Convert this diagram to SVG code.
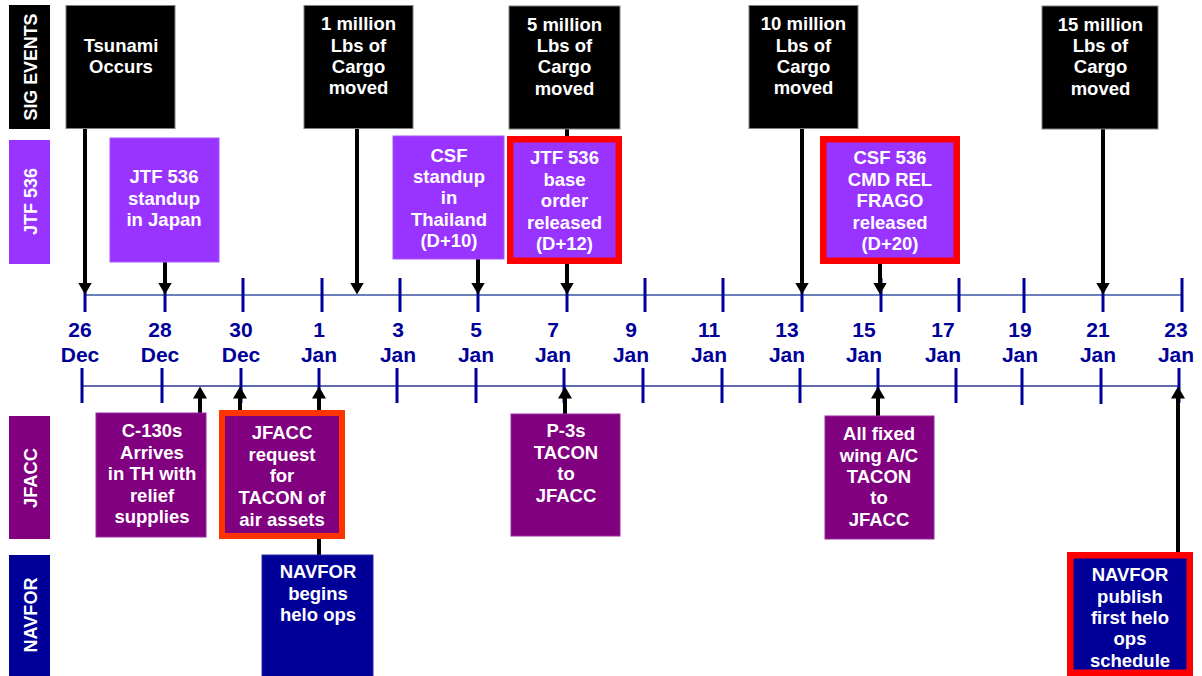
<svg xmlns="http://www.w3.org/2000/svg" width="1202" height="676" viewBox="0 0 1202 676">
  <defs>
    <style>
      .lane { font-family: "Liberation Sans", Arial, sans-serif; font-weight: bold; font-size: 19px; fill: #ffffff; text-anchor: middle; }
      .box text { font-family: "Liberation Sans", Arial, sans-serif; font-weight: bold; font-size: 18.5px; fill: #ffffff; text-anchor: middle; }
      .date { font-family: "Liberation Sans", Arial, sans-serif; font-weight: bold; font-size: 21px; fill: #000099; text-anchor: middle; }
      .sig { fill: #000000; stroke: #808080; stroke-width: 1; }
      .jtf { fill: #9933ff; stroke: #a855ff; stroke-width: 1; }
      .jfacc { fill: #800080; stroke: #9a2a9a; stroke-width: 1; }
      .navfor { fill: #000099; stroke: #2a2aa8; stroke-width: 1; }
      .hot { stroke: #ff0000; stroke-width: 6.5; }
      .hot2 { stroke: #ff3300; stroke-width: 6; }
      .tick { stroke: #000099; stroke-width: 3; }
      .link { stroke: #000000; stroke-width: 4; fill: none; }
      .arrow { marker-end: url(#head); }
    </style>
    <marker id="head" markerUnits="userSpaceOnUse" markerWidth="12" markerHeight="14" viewBox="0 0 12 14" refX="0.5" refY="7" orient="auto">
      <path d="M0,0 L12,7 L0,14 z" fill="#000000"/>
    </marker>
  </defs>

  <rect width="1202" height="676" fill="#ffffff"/>

  <!-- swim-lane headers -->
  <g id="lane-sig">
    <rect x="9" y="5" width="41" height="124" fill="#000000"/>
    <text class="lane" transform="translate(30,67) rotate(-90)" x="0" y="7" textLength="107" lengthAdjust="spacingAndGlyphs">SIG EVENTS</text>
  </g>
  <g id="lane-jtf">
    <rect x="9" y="140" width="41" height="124" fill="#9933ff"/>
    <text class="lane" transform="translate(30,201.5) rotate(-90)" x="0" y="7" textLength="67" lengthAdjust="spacingAndGlyphs">JTF 536</text>
  </g>
  <g id="lane-jfacc">
    <rect x="9" y="416" width="41" height="123" fill="#800080"/>
    <text class="lane" transform="translate(30,478) rotate(-90)" x="0" y="7" textLength="60" lengthAdjust="spacingAndGlyphs">JFACC</text>
  </g>
  <g id="lane-navfor">
    <rect x="9" y="555" width="41" height="121" fill="#000099"/>
    <text class="lane" transform="translate(30,615) rotate(-90)" x="0" y="7" textLength="75" lengthAdjust="spacingAndGlyphs">NAVFOR</text>
  </g>

  <!-- timeline axes -->
  <g id="timeline">
    <line x1="85" y1="295" x2="1182" y2="295" stroke="#6b80ba" stroke-width="2"/>
    <line x1="82" y1="386" x2="1179" y2="386" stroke="#2b3a95" stroke-width="1.5"/>
    <g class="tick">
      <line x1="85" y1="278" x2="85" y2="312"/>
      <line x1="165" y1="278" x2="165" y2="312"/>
      <line x1="243" y1="278" x2="243" y2="312"/>
      <line x1="322" y1="278" x2="322" y2="312"/>
      <line x1="400" y1="278" x2="400" y2="312"/>
      <line x1="478" y1="278" x2="478" y2="312"/>
      <line x1="567" y1="278" x2="567" y2="312"/>
      <line x1="645" y1="278" x2="645" y2="312"/>
      <line x1="723" y1="278" x2="723" y2="312"/>
      <line x1="802" y1="278" x2="802" y2="312"/>
      <line x1="881" y1="278" x2="881" y2="312"/>
      <line x1="959" y1="278" x2="959" y2="312"/>
      <line x1="1024" y1="278" x2="1024" y2="313"/>
      <line x1="1103" y1="278" x2="1103" y2="312"/>
      <line x1="1182" y1="278" x2="1182" y2="312"/>

      <line x1="82" y1="368" x2="82" y2="403"/>
      <line x1="162" y1="368" x2="162" y2="403"/>
      <line x1="241" y1="368" x2="241" y2="403"/>
      <line x1="319" y1="368" x2="319" y2="403"/>
      <line x1="397" y1="368" x2="397" y2="403"/>
      <line x1="476" y1="368" x2="476" y2="403"/>
      <line x1="564" y1="368" x2="564" y2="403"/>
      <line x1="643" y1="368" x2="643" y2="403"/>
      <line x1="722" y1="368" x2="722" y2="403"/>
      <line x1="800" y1="368" x2="800" y2="403"/>
      <line x1="878" y1="368" x2="878" y2="403"/>
      <line x1="956" y1="368" x2="956" y2="403"/>
      <line x1="1022" y1="368" x2="1022" y2="405"/>
      <line x1="1101" y1="368" x2="1101" y2="404"/>
      <line x1="1179" y1="368" x2="1179" y2="403"/>
    </g>
    <g class="date">
      <text x="80" y="337">26</text><text x="80" y="362">Dec</text>
      <text x="160" y="337">28</text><text x="160" y="362">Dec</text>
      <text x="241" y="337">30</text><text x="241" y="362">Dec</text>
      <text x="319" y="337">1</text><text x="319" y="362">Jan</text>
      <text x="398" y="337">3</text><text x="398" y="362">Jan</text>
      <text x="476" y="337">5</text><text x="476" y="362">Jan</text>
      <text x="553" y="337">7</text><text x="553" y="362">Jan</text>
      <text x="631" y="337">9</text><text x="631" y="362">Jan</text>
      <text x="709" y="337">11</text><text x="709" y="362">Jan</text>
      <text x="787" y="337">13</text><text x="787" y="362">Jan</text>
      <text x="864" y="337">15</text><text x="864" y="362">Jan</text>
      <text x="943" y="337">17</text><text x="943" y="362">Jan</text>
      <text x="1020" y="337">19</text><text x="1020" y="362">Jan</text>
      <text x="1098" y="337">21</text><text x="1098" y="362">Jan</text>
      <text x="1176" y="337">23</text><text x="1176" y="362">Jan</text>
    </g>
  </g>

  <!-- connectors from events to the timeline -->
  <g id="connectors">
    <line class="link arrow" x1="85" y1="128" x2="85" y2="283"/>
    <line class="link arrow" x1="165" y1="262" x2="165" y2="283"/>
    <line class="link arrow" x1="357" y1="128" x2="357" y2="283"/>
    <line class="link arrow" x1="478" y1="259" x2="478" y2="283"/>
    <line class="link arrow" x1="567" y1="129" x2="567" y2="283"/>
    <line class="link arrow" x1="802" y1="128" x2="802" y2="283"/>
    <line class="link arrow" x1="880" y1="264" x2="880" y2="283"/>
    <line class="link arrow" x1="1103" y1="129" x2="1103" y2="283"/>

    <line class="link arrow" x1="200" y1="413" x2="200" y2="398"/>
    <line class="link arrow" x1="240" y1="412" x2="240" y2="398"/>
    <line class="link arrow" x1="319" y1="412" x2="319" y2="398"/>
    <line class="link" x1="319" y1="536" x2="319" y2="556"/>
    <line class="link arrow" x1="565" y1="414" x2="565" y2="398"/>
    <line class="link arrow" x1="878" y1="416" x2="878" y2="398"/>
    <line class="link arrow" x1="1178" y1="553" x2="1178" y2="398"/>
  </g>

  <!-- significant events -->
  <g id="tsunami" class="box">
    <rect class="sig" x="66" y="5.5" width="109" height="123"/>
    <text x="121" y="52">Tsunami</text>
    <text x="121" y="73">Occurs</text>
  </g>
  <g id="cargo-1m" class="box">
    <rect class="sig" x="304" y="5.5" width="109" height="123"/>
    <text x="358.5" y="30">1 million</text>
    <text x="358.5" y="52">Lbs of</text>
    <text x="358.5" y="73">Cargo</text>
    <text x="358.5" y="94">moved</text>
  </g>
  <g id="cargo-5m" class="box">
    <rect class="sig" x="509" y="6" width="111" height="123"/>
    <text x="564.5" y="31">5 million</text>
    <text x="564.5" y="52">Lbs of</text>
    <text x="564.5" y="73">Cargo</text>
    <text x="564.5" y="95">moved</text>
  </g>
  <g id="cargo-10m" class="box">
    <rect class="sig" x="749" y="5.5" width="109" height="123"/>
    <text x="803.5" y="30">10 million</text>
    <text x="803.5" y="52">Lbs of</text>
    <text x="803.5" y="73">Cargo</text>
    <text x="803.5" y="94">moved</text>
  </g>
  <g id="cargo-15m" class="box">
    <rect class="sig" x="1042" y="6" width="116" height="123"/>
    <text x="1100.5" y="31">15 million</text>
    <text x="1100.5" y="52">Lbs of</text>
    <text x="1100.5" y="73">Cargo</text>
    <text x="1100.5" y="95">moved</text>
  </g>

  <!-- JTF 536 events -->
  <g id="jtf-standup" class="box">
    <rect class="jtf" x="110" y="138" width="109" height="124"/>
    <text x="164" y="183">JTF 536</text>
    <text x="164" y="205">standup</text>
    <text x="164" y="226">in Japan</text>
  </g>
  <g id="csf-standup" class="box">
    <rect class="jtf" x="393" y="136" width="111" height="123"/>
    <text x="449" y="162">CSF</text>
    <text x="449" y="183">standup</text>
    <text x="449" y="204">in</text>
    <text x="449" y="226">Thailand</text>
    <text x="449" y="247">(D+10)</text>
  </g>
  <g id="jtf-base-order" class="box">
    <rect class="jtf hot" x="510.25" y="139.25" width="108.5" height="121.5" fill="#9933ff"/>
    <text x="564.5" y="164">JTF 536</text>
    <text x="564.5" y="186">base</text>
    <text x="564.5" y="207">order</text>
    <text x="564.5" y="229">released</text>
    <text x="564.5" y="250">(D+12)</text>
  </g>
  <g id="csf-frago" class="box">
    <rect class="jtf hot" x="823.25" y="139.25" width="133.5" height="121.5"/>
    <text x="890" y="164">CSF 536</text>
    <text x="890" y="186">CMD REL</text>
    <text x="890" y="207">FRAGO</text>
    <text x="890" y="229">released</text>
    <text x="890" y="250">(D+20)</text>
  </g>

  <!-- JFACC events -->
  <g id="c130" class="box">
    <rect class="jfacc" x="96" y="413" width="110" height="124"/>
    <text x="152" y="437">C-130s</text>
    <text x="152" y="459">Arrives</text>
    <text x="152" y="480">in TH with</text>
    <text x="152" y="502">relief</text>
    <text x="152" y="523">supplies</text>
  </g>
  <g id="jfacc-request" class="box">
    <rect class="jfacc hot2" x="222" y="413" width="120" height="123"/>
    <text x="282" y="439">JFACC</text>
    <text x="282" y="461">request</text>
    <text x="282" y="482">for</text>
    <text x="282" y="504">TACON of</text>
    <text x="282" y="526">air assets</text>
  </g>
  <g id="p3-tacon" class="box">
    <rect class="jfacc" x="511" y="414" width="109" height="122"/>
    <text x="566" y="437">P-3s</text>
    <text x="566" y="459">TACON</text>
    <text x="566" y="480">to</text>
    <text x="566" y="502">JFACC</text>
  </g>
  <g id="fixed-wing-tacon" class="box">
    <rect class="jfacc" x="825" y="416" width="109" height="123"/>
    <text x="879" y="440">All fixed</text>
    <text x="879" y="462">wing A/C</text>
    <text x="879" y="483">TACON</text>
    <text x="879" y="504">to</text>
    <text x="879" y="526">JFACC</text>
  </g>

  <!-- NAVFOR events -->
  <g id="navfor-helo" class="box">
    <rect class="navfor" x="262" y="555" width="111" height="124"/>
    <text x="318" y="578">NAVFOR</text>
    <text x="318" y="600">begins</text>
    <text x="318" y="621">helo ops</text>
  </g>
  <g id="navfor-schedule" class="box">
    <rect class="navfor hot" x="1070.25" y="555.25" width="119.5" height="117.5"/>
    <text x="1130" y="581">NAVFOR</text>
    <text x="1130" y="603">publish</text>
    <text x="1130" y="624">first helo</text>
    <text x="1130" y="645">ops</text>
    <text x="1130" y="667">schedule</text>
  </g>
</svg>
